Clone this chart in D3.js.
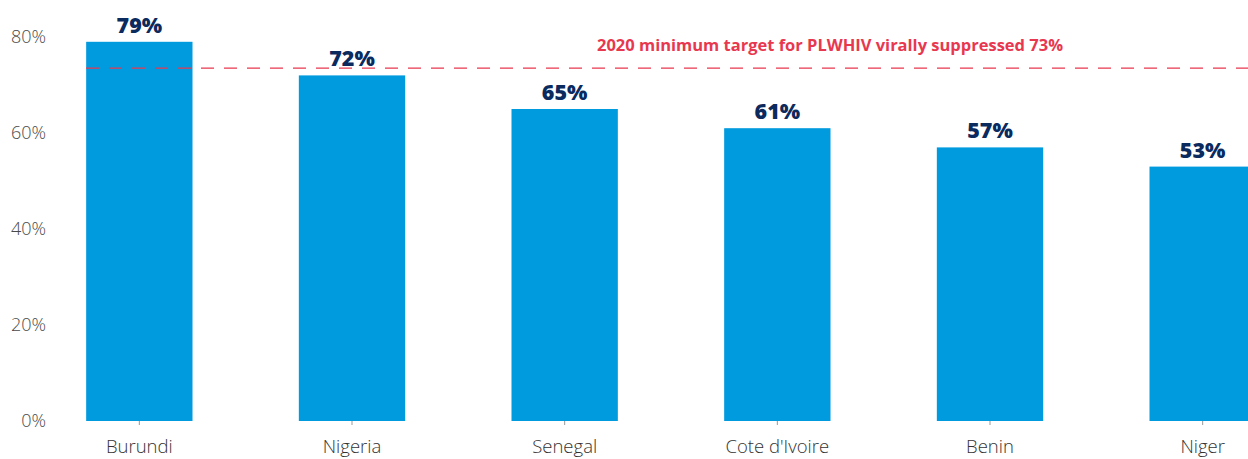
<!DOCTYPE html>
<html><head><meta charset="utf-8">
<script src="https://cdn.jsdelivr.net/npm/d3@7"></script>
<style>body{margin:0;background:#fff}svg{display:block}</style>
</head><body>
<svg id="c" width="1248" height="459"></svg>
<script>
const categories = ["Burundi","Nigeria","Senegal","Cote d'Ivoire","Benin","Niger"];
const values = [79,72,65,61,57,53];
const yTicks = [0,20,40,60,80];
const targetValue = 73.5;
const targetLabel = "2020 minimum target for PLWHIV virally suppressed 73%";

const svg = d3.select("#c");
const x = d3.scaleBand().domain(categories).range([33,1309]).paddingInner(0.5).paddingOuter(0.25);
const y = d3.scaleLinear().domain([0,80]).range([421,37]);

// y axis labels
svg.append("g").selectAll("text").data(yTicks).join("text")
  .attr("x",46).attr("y",d=>y(d)).attr("dy","0.36em")
  .attr("text-anchor","end")
  .style("font-family","'Open Sans'").style("font-weight",300)
  .style("font-size","18px").style("fill","#4a4a4a")
  .text(d=>d+"%");

// bars
svg.append("g").selectAll("rect").data(values).join("rect")
  .attr("x",(d,i)=>x(categories[i])).attr("width",x.bandwidth())
  .attr("y",d=>y(d)).attr("height",d=>y(0)-y(d))
  .attr("fill","#009ade");

// x ticks
svg.append("g").selectAll("line").data(categories).join("line")
  .attr("x1",d=>x(d)+x.bandwidth()/2).attr("x2",d=>x(d)+x.bandwidth()/2)
  .attr("y1",421).attr("y2",425).attr("stroke","#999").attr("stroke-width",1);

// x labels
svg.append("g").selectAll("text").data(categories).join("text")
  .attr("x",d=>x(d)+x.bandwidth()/2).attr("y",453)
  .attr("text-anchor","middle")
  .style("font-family","'Open Sans'").style("font-weight",300)
  .style("font-size","18.5px").style("fill","#333")
  .text(d=>d);

// value labels
svg.append("g").selectAll("text").data(values).join("text")
  .attr("x",(d,i)=>x(categories[i])+x.bandwidth()/2).attr("y",d=>y(d)-9)
  .attr("text-anchor","middle")
  .style("font-family","'Open Sans'").style("font-weight",800)
  .style("font-size","21.5px").style("fill","#0b2a5e")
  .text(d=>d+"%");

// target line
svg.append("line")
  .attr("x1",86).attr("x2",1248).attr("y1",y(targetValue)).attr("y2",y(targetValue))
  .attr("stroke","#e8384f").attr("stroke-width",1.3).attr("stroke-dasharray","13,10");

svg.append("text").attr("x",597).attr("y",51)
  .style("font-family","'Open Sans'").style("font-weight",700)
  .style("font-size","16.5px").style("fill","#e8384f")
  .attr("textLength",466).attr("lengthAdjust","spacingAndGlyphs")
  .text(targetLabel);
</script>
</body></html>
